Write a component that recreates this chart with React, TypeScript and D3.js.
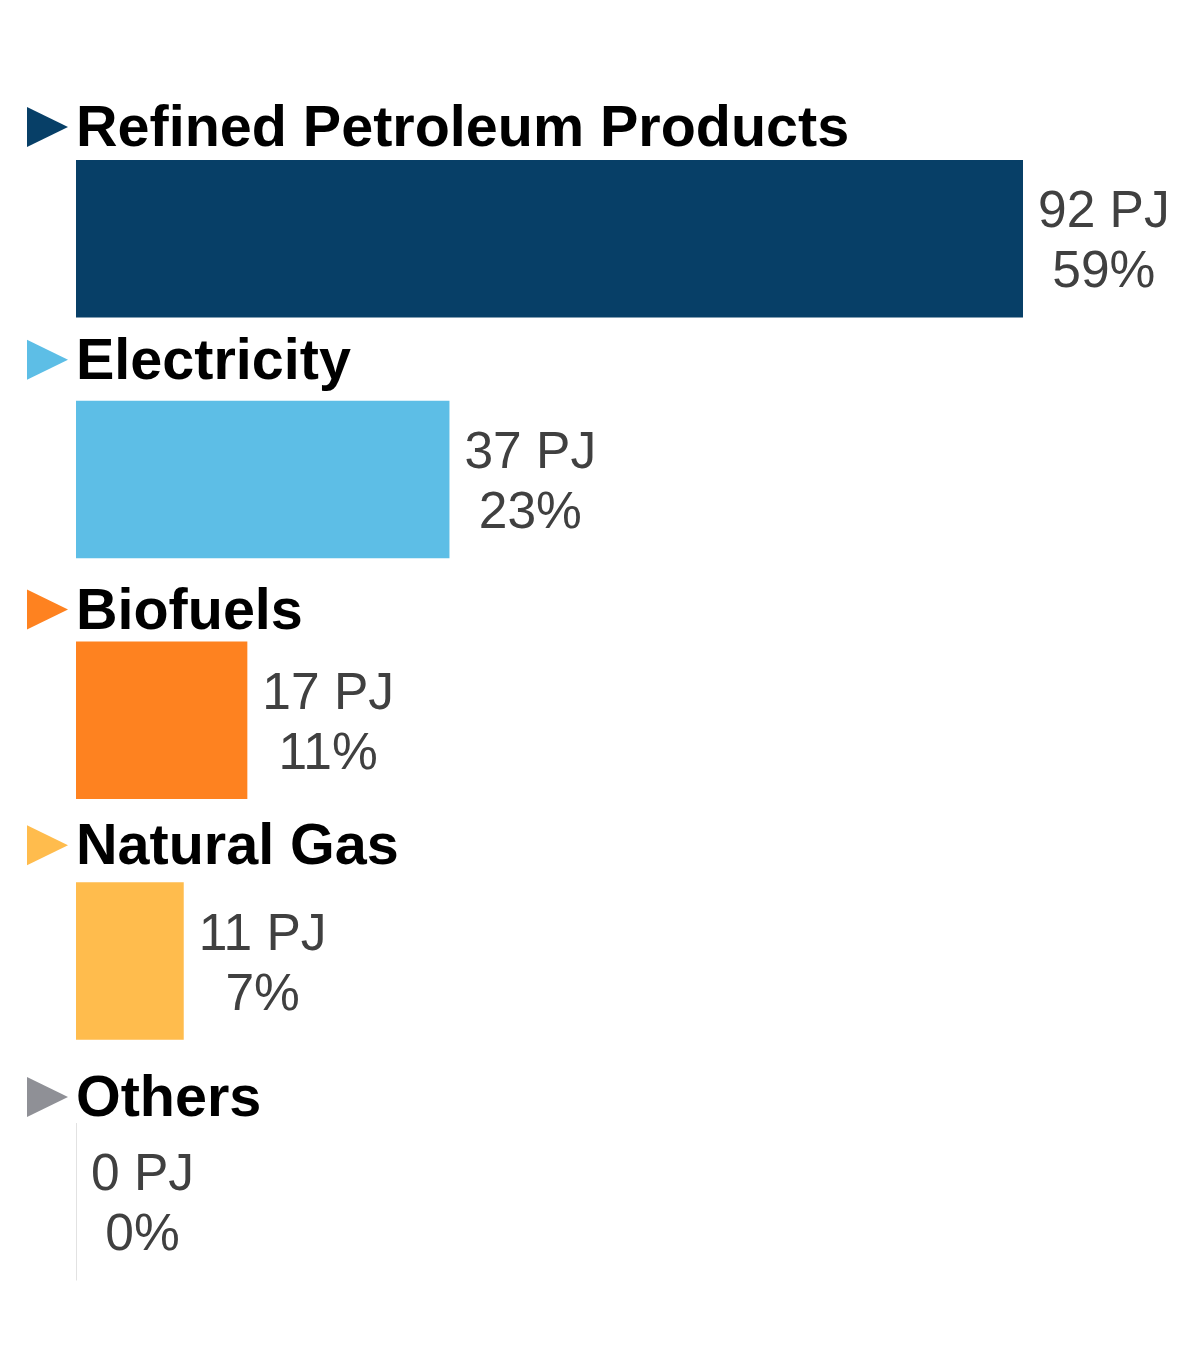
import React, { useEffect, useRef } from "react";
import * as d3 from "d3";

const categories = ["Refined Petroleum Products", "Electricity", "Biofuels", "Natural Gas", "Others"];
const values = [92.3, 36.4, 16.7, 10.5, 0];
const valueLabels = ["92 PJ", "37 PJ", "17 PJ", "11 PJ", "0 PJ"];
const percentLabels = ["59%", "23%", "11%", "7%", "0%"];
const colors = ["#073f67", "#5dbee6", "#fe8220", "#ffbc4d", "#8f9096"];

// layout: gap between category label baseline and bar top
const labelGaps = [14, 22, 13, 18, 7];

const W = 1200;
const H = 1368;

export default function App() {
  const ref = useRef<SVGSVGElement | null>(null);

  useEffect(() => {
    document.body.style.margin = "0";
    const svg = d3.select(ref.current);
    svg.selectAll("*").remove();

    const x = d3.scaleLinear().domain([0, 92.3]).range([76, 1023]);
    const y = d3
      .scaleBand<string>()
      .domain(categories)
      .range([160, 1280.5])
      .paddingInner(0.3458)
      .paddingOuter(0);

    const g = svg.append("g");
    const rows = g
      .selectAll("g.row")
      .data(categories.map((c, i) => ({ c, i })))
      .join("g")
      .attr("class", "row");

    rows.each(function (d) {
      const row = d3.select(this);
      const top = y(d.c)!;
      const bw = y.bandwidth();
      const x0 = x(0);
      const x1 = x(values[d.i]);
      const base = top - labelGaps[d.i];

      row
        .append("path")
        .attr("d", `M27,${base - 39}L27,${base + 1}L68,${base - 19}Z`)
        .attr("fill", colors[d.i]);

      row
        .append("text")
        .attr("x", 76)
        .attr("y", base)
        .attr("font-family", "'Liberation Sans', Arial, sans-serif")
        .attr("font-weight", "bold")
        .attr("font-size", 57.5)
        .attr("fill", "#000")
        .text(d.c);

      if (x1 - x0 > 0.5) {
        row
          .append("rect")
          .attr("x", x0)
          .attr("y", top)
          .attr("width", x1 - x0)
          .attr("height", bw)
          .attr("fill", colors[d.i]);
      } else {
        row
          .append("line")
          .attr("x1", x0 + 0.5)
          .attr("x2", x0 + 0.5)
          .attr("y1", top)
          .attr("y2", top + bw)
          .attr("stroke", "#e2e2e2")
          .attr("stroke-width", 1);
      }

      const cy = top + bw / 2;
      const t1 = row
        .append("text")
        .attr("y", cy - 11.5)
        .attr("font-family", "'Liberation Sans', Arial, sans-serif")
        .attr("font-size", 51.5)
        .attr("fill", "#404040")
        .attr("text-anchor", "middle")
        .text(valueLabels[d.i]);
      const t2 = row
        .append("text")
        .attr("y", cy + 48.5)
        .attr("font-family", "'Liberation Sans', Arial, sans-serif")
        .attr("font-size", 51.5)
        .attr("fill", "#404040")
        .attr("text-anchor", "middle")
        .text(percentLabels[d.i]);
      const w1 = (t1.node() as SVGTextElement).getComputedTextLength();
      const w2 = (t2.node() as SVGTextElement).getComputedTextLength();
      const cx = x1 + 15 + Math.max(w1, w2) / 2;
      t1.attr("x", cx);
      t2.attr("x", cx);
    });
  }, []);

  return <svg ref={ref} width={W} height={H} style={{ display: "block", background: "#fff" }} />;
}
